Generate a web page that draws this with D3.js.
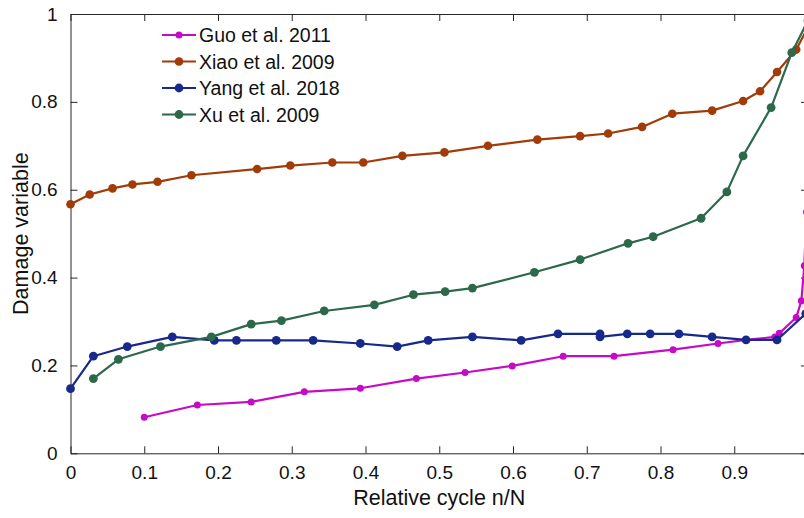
<!DOCTYPE html>
<html>
<head>
<meta charset="utf-8">
<script src="https://cdn.jsdelivr.net/npm/d3@7"></script>
<style>
  html, body { margin: 0; padding: 0; background: #fff; }
  svg { display: block; }
  text { font-family: "Liberation Sans", Arial, Helvetica, sans-serif; fill: #111; }
</style>
</head>
<body>
<svg id="chart" width="804" height="518"></svg>
<script>
// Damage variable vs. relative cycle for four published models
const guoX  = [0.100, 0.172, 0.245, 0.317, 0.393, 0.469, 0.535, 0.599, 0.668, 0.737, 0.817, 0.878, 0.916, 0.955, 0.961, 0.984, 0.991, 0.995, 0.998];
const guoY  = [0.082, 0.110, 0.117, 0.140, 0.148, 0.170, 0.184, 0.199, 0.221, 0.221, 0.236, 0.250, 0.258, 0.265, 0.273, 0.309, 0.347, 0.427, 0.549];

const xiaoX = [0.000, 0.026, 0.057, 0.084, 0.118, 0.164, 0.253, 0.298, 0.355, 0.397, 0.450, 0.507, 0.566, 0.633, 0.691, 0.729, 0.775, 0.816, 0.870, 0.912, 0.935, 0.958, 0.984, 1.000];
const xiaoY = [0.567, 0.589, 0.603, 0.612, 0.618, 0.633, 0.647, 0.655, 0.662, 0.662, 0.677, 0.685, 0.700, 0.714, 0.722, 0.728, 0.743, 0.773, 0.780, 0.802, 0.824, 0.868, 0.919, 0.970];

const yangX = [0.000, 0.031, 0.077, 0.138, 0.195, 0.225, 0.279, 0.329, 0.393, 0.443, 0.485, 0.545, 0.611, 0.661, 0.718, 0.718, 0.755, 0.786, 0.825, 0.870, 0.916, 0.958, 0.997];
const yangY = [0.147, 0.221, 0.243, 0.265, 0.257, 0.257, 0.257, 0.257, 0.250, 0.243, 0.257, 0.265, 0.257, 0.272, 0.272, 0.265, 0.272, 0.272, 0.272, 0.265, 0.258, 0.258, 0.318];

const xuX   = [0.031, 0.065, 0.122, 0.191, 0.245, 0.286, 0.344, 0.412, 0.465, 0.508, 0.545, 0.629, 0.691, 0.756, 0.790, 0.855, 0.890, 0.912, 0.950, 0.978, 1.000];
const xuY   = [0.170, 0.214, 0.243, 0.265, 0.294, 0.302, 0.324, 0.338, 0.361, 0.368, 0.376, 0.412, 0.441, 0.478, 0.493, 0.535, 0.595, 0.677, 0.787, 0.912, 0.985];

const seriesNames  = ["Guo et al. 2011", "Xiao et al. 2009", "Yang et al. 2018", "Xu et al. 2009"];
const seriesColors = ["#c60bc6", "#a13b08", "#17298a", "#2c694b"];
const markerRadii  = [3.5, 4.3, 4.4, 4.4];

// x ticks run to 1, but only 0 … 0.9 carry labels inside the frame
const xTicks = [0, 0.1, 0.2, 0.3, 0.4, 0.5, 0.6, 0.7, 0.8, 0.9, 1];
const xTickLabels = ["0", "0.1", "0.2", "0.3", "0.4", "0.5", "0.6", "0.7", "0.8", "0.9", ""];
const yTicks = [0, 0.2, 0.4, 0.6, 0.8, 1];
const yTickLabels = ["0", "0.2", "0.4", "0.6", "0.8", "1"];

const xLabel = "Relative cycle n/N";
const yLabel = "Damage variable";

(function draw() {
  const series = [
    { xs: guoX,  ys: guoY },
    { xs: xiaoX, ys: xiaoY },
    { xs: yangX, ys: yangY },
    { xs: xuX,   ys: xuY }
  ].map((s, i) => ({
    name: seriesNames[i],
    color: seriesColors[i],
    r: markerRadii[i],
    points: s.xs.map((x, j) => [x, s.ys[j]])
  }));

  const svg = d3.select("#chart");
  const mLeft = 70.5, mRight = 808, mTop = 14, mBottom = 453.3;

  const x = d3.scaleLinear().domain([0, 1]).range([mLeft, mRight]);
  const y = d3.scaleLinear().domain([0, 1]).range([mBottom, mTop]);

  const axisColor = "#262626";
  const tickLen = 7;

  // axes: ticks point inward on all four sides
  const gx = svg.append("g").attr("transform", `translate(0,${mBottom})`)
    .call(d3.axisBottom(x).tickValues(xTicks).tickSizeInner(-tickLen).tickSizeOuter(0).tickPadding(12)
      .tickFormat((d, i) => xTickLabels[i]));
  const gy = svg.append("g").attr("transform", `translate(${mLeft},0)`)
    .call(d3.axisLeft(y).tickValues(yTicks).tickSizeInner(-tickLen).tickSizeOuter(0).tickPadding(12)
      .tickFormat((d, i) => yTickLabels[i]));
  const gt = svg.append("g").attr("transform", `translate(0,${mTop})`)
    .call(d3.axisTop(x).tickValues(xTicks).tickSizeInner(-tickLen).tickSizeOuter(0).tickFormat(""));
  const gr = svg.append("g").attr("transform", `translate(${mRight},0)`)
    .call(d3.axisRight(y).tickValues(yTicks).tickSizeInner(-tickLen).tickSizeOuter(0).tickFormat(""));

  [gx, gy, gt, gr].forEach(g => {
    g.select(".domain").attr("stroke", axisColor).attr("stroke-width", 1);
    g.selectAll(".tick line").attr("stroke", axisColor).attr("stroke-width", 1);
    g.selectAll(".tick text").attr("font-size", 19).attr("fill", "#111")
      .attr("font-family", "'Liberation Sans', Arial, Helvetica, sans-serif");
  });
  gx.selectAll(".tick text").filter(function () { return this.textContent === ""; }).remove();
  gy.selectAll(".tick text").attr("dx", "-0.05em");

  // axis titles
  svg.append("text")
    .attr("x", (mLeft + mRight) / 2).attr("y", 505)
    .attr("text-anchor", "middle").attr("font-size", 21.5)
    .text(xLabel);
  svg.append("text")
    .attr("transform", `translate(28,${(mTop + mBottom) / 2}) rotate(-90)`)
    .attr("text-anchor", "middle").attr("font-size", 21.5)
    .text(yLabel);

  // series lines and markers
  const line = d3.line().x(d => x(d[0])).y(d => y(d[1]));
  const plot = svg.append("g");
  series.forEach(s => {
    const g = plot.append("g");
    g.append("path").datum(s.points)
      .attr("d", line).attr("fill", "none")
      .attr("stroke", s.color).attr("stroke-width", 2.2).attr("stroke-linejoin", "round");
    g.selectAll("circle").data(s.points).join("circle")
      .attr("cx", d => x(d[0])).attr("cy", d => y(d[1]))
      .attr("r", s.r).attr("fill", s.color);
  });

  // legend
  const legend = svg.append("g");
  const legendRows = [35, 61.5, 88, 114.5];
  series.forEach((s, i) => {
    const row = legend.append("g").attr("transform", `translate(0,${legendRows[i]})`);
    row.append("line").attr("x1", 162).attr("x2", 196).attr("y1", 0).attr("y2", 0)
      .attr("stroke", s.color).attr("stroke-width", 2.2);
    row.append("circle").attr("cx", 179).attr("cy", 0).attr("r", s.r).attr("fill", s.color);
    row.append("text").attr("x", 199).attr("y", 0).attr("dy", "0.36em")
      .attr("font-size", 19.5).text(s.name);
  });
})();
</script>
</body>
</html>
